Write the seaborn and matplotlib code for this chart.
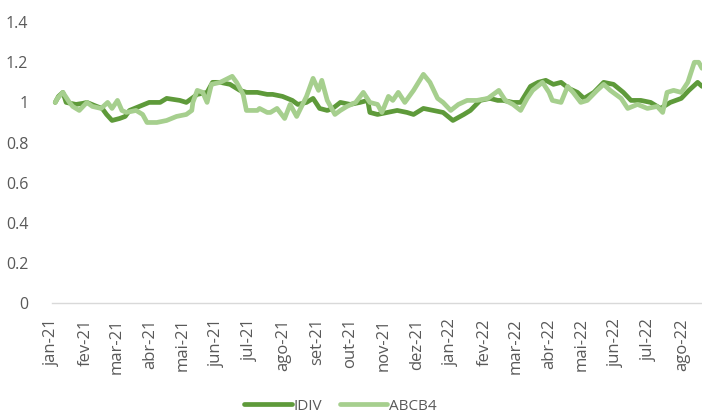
import pandas as pd
import numpy as np
import matplotlib
matplotlib.use("Agg")
import matplotlib.pyplot as plt
import matplotlib.dates as mdates
from matplotlib.ticker import FixedLocator, FixedFormatter
import seaborn as sns

# ---------------- data ----------------
idiv_dates = ["2021-01-04", "2021-01-07", "2021-01-11", "2021-01-14", "2021-01-23", "2021-01-29",
              "2021-02-02", "2021-02-11", "2021-02-16", "2021-02-20", "2021-02-25", "2021-03-04",
              "2021-03-09", "2021-03-13", "2021-03-22", "2021-03-31", "2021-04-10", "2021-04-16",
              "2021-04-28", "2021-05-04", "2021-05-14", "2021-05-23", "2021-05-28", "2021-06-04",
              "2021-06-13", "2021-06-22", "2021-06-28", "2021-07-08", "2021-07-17", "2021-07-22",
              "2021-07-31", "2021-08-09", "2021-08-14", "2021-08-22", "2021-08-28", "2021-09-03",
              "2021-09-10", "2021-09-15", "2021-09-22", "2021-10-01", "2021-10-10", "2021-10-17",
              "2021-10-19", "2021-10-26", "2021-11-04", "2021-11-13", "2021-11-22", "2021-11-28",
              "2021-12-07", "2021-12-16", "2021-12-25", "2022-01-03", "2022-01-13", "2022-01-19",
              "2022-01-28", "2022-02-06", "2022-02-13", "2022-02-18", "2022-02-27", "2022-03-06",
              "2022-03-15", "2022-03-22", "2022-03-29", "2022-04-05", "2022-04-12", "2022-04-19",
              "2022-04-27", "2022-05-03", "2022-05-12", "2022-05-21", "2022-05-30", "2022-06-08",
              "2022-06-15", "2022-06-24", "2022-07-03", "2022-07-12", "2022-07-21", "2022-07-31",
              "2022-08-07", "2022-08-15", "2022-08-19"]
idiv_values = [1.00, 1.03, 1.05, 1.00, 0.99, 0.995,
               1.00, 0.98, 0.97, 0.94, 0.91, 0.92,
               0.93, 0.96, 0.98, 1.00, 1.00, 1.02,
               1.01, 1.00, 1.04, 1.05, 1.10, 1.10,
               1.09, 1.06, 1.05, 1.05, 1.04, 1.04,
               1.03, 1.01, 0.99, 1.00, 1.02, 0.97,
               0.96, 0.97, 1.00, 0.99, 1.00, 1.01,
               0.95, 0.94, 0.95, 0.96, 0.95, 0.94,
               0.97, 0.96, 0.95, 0.91, 0.94, 0.96,
               1.01, 1.02, 1.01, 1.01, 1.00, 1.00,
               1.08, 1.10, 1.11, 1.09, 1.10, 1.07,
               1.05, 1.02, 1.05, 1.10, 1.09, 1.05,
               1.01, 1.01, 1.00, 0.97, 1.00, 1.02,
               1.06, 1.10, 1.08]

abcb4_dates = ["2021-01-04", "2021-01-06", "2021-01-11", "2021-01-17", "2021-01-20", "2021-01-26",
               "2021-02-02", "2021-02-07", "2021-02-15", "2021-02-21", "2021-02-25", "2021-03-02",
               "2021-03-06", "2021-03-10", "2021-03-19", "2021-03-25", "2021-03-29", "2021-04-07",
               "2021-04-16", "2021-04-25", "2021-05-04", "2021-05-09", "2021-05-10", "2021-05-14",
               "2021-05-19", "2021-05-23", "2021-05-27", "2021-06-04", "2021-06-15", "2021-06-19",
               "2021-06-25", "2021-06-28", "2021-07-01", "2021-07-08", "2021-07-10", "2021-07-17",
               "2021-07-20", "2021-07-26", "2021-08-02", "2021-08-07", "2021-08-13", "2021-08-22",
               "2021-08-28", "2021-09-02", "2021-09-05", "2021-09-10", "2021-09-17", "2021-09-22",
               "2021-09-28", "2021-10-06", "2021-10-13", "2021-10-19", "2021-10-26", "2021-10-30",
               "2021-11-05", "2021-11-09", "2021-11-14", "2021-11-20", "2021-11-28", "2021-12-07",
               "2021-12-13", "2021-12-20", "2021-12-25", "2022-01-01", "2022-01-08", "2022-01-16",
               "2022-01-25", "2022-02-04", "2022-02-09", "2022-02-14", "2022-02-20", "2022-02-27",
               "2022-03-06", "2022-03-12", "2022-03-17", "2022-03-26", "2022-04-01", "2022-04-04",
               "2022-04-12", "2022-04-18", "2022-04-23", "2022-04-30", "2022-05-06", "2022-05-15",
               "2022-05-21", "2022-05-27", "2022-06-06", "2022-06-12", "2022-06-21", "2022-06-30",
               "2022-07-09", "2022-07-14", "2022-07-18", "2022-07-24", "2022-07-31", "2022-08-06",
               "2022-08-12", "2022-08-16", "2022-08-19"]
abcb4_values = [1.00, 1.02, 1.05, 1.00, 0.98, 0.96,
                1.00, 0.98, 0.97, 1.00, 0.97, 1.01,
                0.96, 0.95, 0.96, 0.94, 0.90, 0.90,
                0.91, 0.93, 0.94, 0.96, 1.00, 1.06,
                1.05, 1.00, 1.09, 1.10, 1.13, 1.10,
                1.04, 0.96, 0.96, 0.96, 0.97, 0.95,
                0.95, 0.97, 0.92, 0.99, 0.93, 1.03,
                1.12, 1.06, 1.11, 1.01, 0.94, 0.96,
                0.98, 1.00, 1.05, 1.00, 0.99, 0.95,
                1.03, 1.01, 1.05, 1.00, 1.06, 1.14,
                1.10, 1.02, 1.00, 0.96, 0.99, 1.01,
                1.01, 1.02, 1.04, 1.06, 1.01, 0.99,
                0.96, 1.02, 1.06, 1.10, 1.05, 1.01,
                1.00, 1.08, 1.05, 1.00, 1.01, 1.06,
                1.09, 1.06, 1.02, 0.97, 0.99, 0.97,
                0.98, 0.95, 1.05, 1.06, 1.05, 1.10,
                1.20, 1.20, 1.17]

series_names = ["IDIV", "ABCB4"]
month_labels = ["jan-21", "fev-21", "mar-21", "abr-21", "mai-21", "jun-21", "jul-21", "ago-21",
                "set-21", "out-21", "nov-21", "dez-21", "jan-22", "fev-22", "mar-22", "abr-22",
                "mai-22", "jun-22", "jul-22", "ago-22"]
y_ticks = [0, 0.2, 0.4, 0.6, 0.8, 1.0, 1.2, 1.4]
y_tick_labels = ["0", "0.2", "0.4", "0.6", "0.8", "1", "1.2", "1.4"]

# ---------------- plot ----------------
sns.set_theme(style="white")
plt.rcParams["font.family"] = ["Open Sans", "DejaVu Sans"]

colors = {"IDIV": "#5E9A3A", "ABCB4": "#A6CF8E"}

df_idiv = pd.DataFrame({"date": pd.to_datetime(idiv_dates), "value": idiv_values})
df_abcb4 = pd.DataFrame({"date": pd.to_datetime(abcb4_dates), "value": abcb4_values})

fig = plt.figure(figsize=(7.02, 4.18), dpi=100)
ax = fig.add_axes([0.074, 0.275, 0.926, 0.672])

sns.lineplot(data=df_idiv, x="date", y="value", ax=ax, color=colors["IDIV"],
             linewidth=3.4, label=series_names[0], solid_joinstyle="round")
sns.lineplot(data=df_abcb4, x="date", y="value", ax=ax, color=colors["ABCB4"],
             linewidth=3.4, label=series_names[1], solid_joinstyle="round")

ax.set_ylim(0, 1.4)
ax.set_xlim(pd.Timestamp("2021-01-01"), pd.Timestamp("2022-08-19"))
ax.set_yticks(y_ticks)
ax.set_yticklabels(y_tick_labels)

month_starts = pd.date_range("2021-01-01", periods=len(month_labels), freq="MS")
ax.xaxis.set_major_locator(FixedLocator(mdates.date2num(month_starts)))
ax.xaxis.set_major_formatter(FixedFormatter(month_labels))
ax.tick_params(axis="x", rotation=90, labelsize=12, labelcolor="#595959",
               length=5, width=1, color="#D9D9D9", direction="out", pad=6)
ax.tick_params(axis="y", labelsize=11.5, labelcolor="#595959", length=0, pad=17)

ax.set_xlabel("")
ax.set_ylabel("")
for side in ["top", "right", "left"]:
    ax.spines[side].set_visible(False)
ax.spines["bottom"].set_color("#D9D9D9")
ax.spines["bottom"].set_linewidth(1)
ax.grid(False)

ax.legend(loc="center", bbox_to_anchor=(0.485, 0.028), bbox_transform=fig.transFigure,
          ncol=2, frameon=False, fontsize=11, handlelength=3.1, handletextpad=0.1,
          columnspacing=1.2, labelcolor="#595959", borderaxespad=0, borderpad=0.1)

fig.savefig("out.png", dpi=100)
